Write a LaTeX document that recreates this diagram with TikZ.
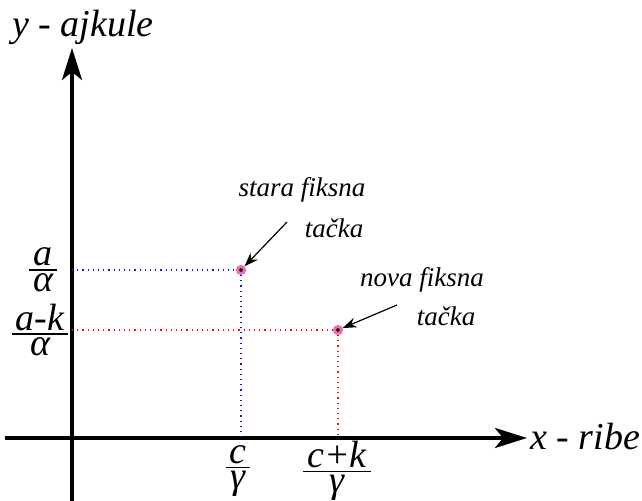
\documentclass[tikz,border=0pt]{standalone}
\usepackage{fontspec}
\setmainfont{Liberation Serif}
\newfontfamily\lblfont{LiberationSerif}[Extension=.ttf,UprightFont=*-Regular,ItalicFont=*-Italic]
\usetikzlibrary{arrows.meta,positioning}
\definecolor{oldguide}{RGB}{20,20,235}
\definecolor{newguide}{RGB}{235,20,20}
\definecolor{ringpink}{RGB}{238,110,175}
% fraction set in the label font
\newcommand{\labfrac}[2]{$\vcenter{\halign{\hskip2pt\hfil##\hfil\hskip2pt\cr #1\cr\noalign{\kern1.5pt\hrule height0.8pt\kern1.5pt}#2\cr}}$}

\begin{document}
\begin{tikzpicture}[x=0.5pt,y=-0.5pt,
  axis/.style={line width=2pt,-{Stealth[length=16pt,width=10pt,inset=4pt]}},
  lbl/.style={font=\lblfont\fontsize{13.5}{16}\selectfont\itshape,inner sep=1pt},
  biglbl/.style={font=\lblfont\fontsize{19}{22}\selectfont\itshape,inner sep=1pt},
  guide/.style={dotted,line width=0.6pt},
  fixpt/.style={circle,inner sep=0pt,minimum size=3.5pt,fill=black,draw=ringpink,line width=1.5pt},
  note/.style={line width=0.6pt,-{Stealth[length=7pt,width=5pt]}}]
\useasboundingbox (0,0) rectangle (642,501);

% axes
\coordinate (O) at (72,438);
\coordinate (xstart) at (5,438);
\coordinate (xend) at (527,438);
\coordinate (ystart) at (72,501);
\coordinate (yend) at (72,48);
\draw[axis] (xstart) -- (xend);
\draw[axis] (ystart) -- (yend);
\node[biglbl,anchor=base] (ylab) at (83,37) {y - ajkule};
\node[biglbl,anchor=base west] (xlab) at (528,450) {x - ribe};

% fixed points
\node[fixpt] (stara) at (241,270) {};
\node[fixpt] (nova) at (338,330) {};
\draw[guide,oldguide] (O |- stara) -- (stara) -- (stara |- O);
\draw[guide,newguide] (O |- nova) -- (nova) -- (nova |- O);

% tick labels
\node[biglbl] (ya) at (43,270) {\labfrac{a}{α}};
\node[biglbl] (yak) at (40,330) {\labfrac{a-k}{α}};
\node[biglbl] (xc) at (238,471) {\labfrac{c}{γ}};
\node[biglbl] (xck) at (337,471) {\labfrac{c+k}{γ}};

% annotations
\node[lbl] (stxt) at (302,190) {stara fiksna};
\node[lbl] (sttk) at (334,228) {tačka};
\node[lbl] (nvtxt) at (422,280) {nova fiksna};
\node[lbl] (nvtk) at (446,316) {tačka};
\coordinate (sfrom) at (287,222);
\coordinate (nfrom) at (397,305);
\draw[note] (sfrom) -- (stara);
\draw[note] (nfrom) -- (nova);
\end{tikzpicture}
\end{document}
